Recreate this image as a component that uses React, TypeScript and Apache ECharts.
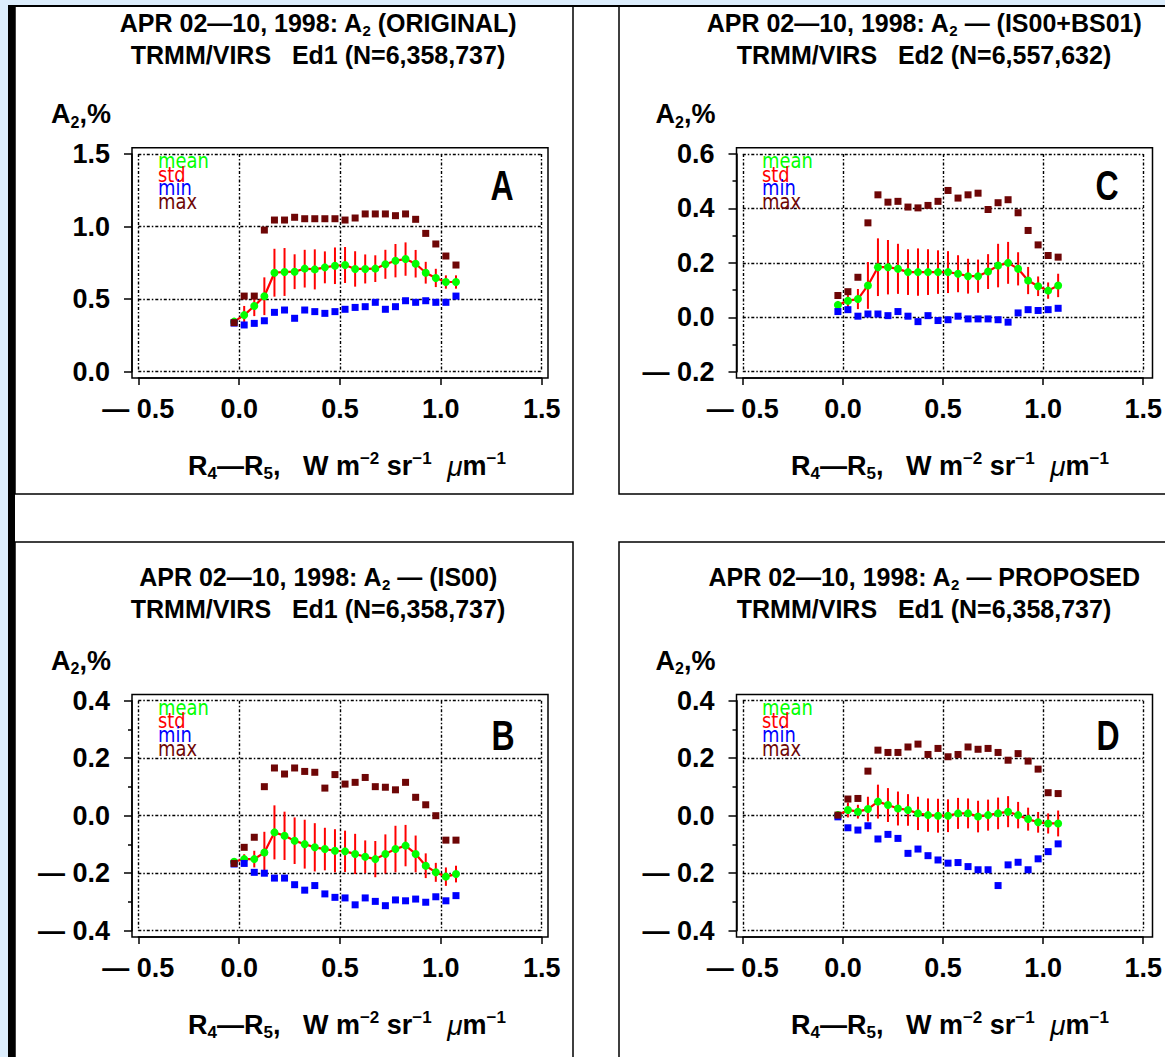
import React, { useEffect, useRef } from 'react';
import * as echarts from 'echarts';

// ---------- DATA ----------
const X_BINS = [-0.025, 0.025, 0.075, 0.125, 0.175, 0.225, 0.275, 0.325, 0.375, 0.425, 0.475, 0.525, 0.575, 0.625, 0.675, 0.725, 0.775, 0.825, 0.875, 0.925, 0.975, 1.025, 1.075];

const A_MEAN = [0.345, 0.39, 0.453, 0.52, 0.682, 0.687, 0.689, 0.71, 0.705, 0.719, 0.73, 0.735, 0.708, 0.708, 0.71, 0.74, 0.765, 0.776, 0.744, 0.682, 0.646, 0.618, 0.618];
const A_STD = [0.01, 0.063, 0.07, 0.13, 0.165, 0.165, 0.12, 0.13, 0.138, 0.11, 0.126, 0.124, 0.122, 0.1, 0.092, 0.1, 0.115, 0.115, 0.095, 0.075, 0.063, 0.046, 0.046];
const A_MIN = [0.335, 0.322, 0.333, 0.351, 0.409, 0.425, 0.368, 0.425, 0.414, 0.402, 0.414, 0.43, 0.443, 0.448, 0.478, 0.43, 0.448, 0.489, 0.478, 0.489, 0.478, 0.478, 0.521];
const A_MAX = [0.338, 0.521, 0.521, 0.976, 1.045, 1.045, 1.064, 1.054, 1.054, 1.054, 1.054, 1.045, 1.059, 1.087, 1.087, 1.087, 1.075, 1.087, 1.05, 0.953, 0.88, 0.797, 0.735];

const C_MEAN = [0.045, 0.061, 0.067, 0.117, 0.184, 0.184, 0.178, 0.166, 0.166, 0.166, 0.166, 0.166, 0.16, 0.151, 0.151, 0.168, 0.19, 0.2, 0.178, 0.135, 0.114, 0.098, 0.117];
const C_STD = [0.015, 0.025, 0.037, 0.086, 0.106, 0.1, 0.092, 0.084, 0.087, 0.084, 0.08, 0.077, 0.068, 0.064, 0.061, 0.064, 0.08, 0.077, 0.061, 0.05, 0.036, 0.03, 0.043];
const C_MIN = [0.021, 0.028, 0.004, 0.012, 0.012, 0.006, 0.021, 0.004, -0.016, 0.006, -0.012, -0.009, 0.004, -0.006, -0.006, -0.006, -0.009, -0.018, 0.016, 0.028, 0.025, 0.028, 0.033];
const C_MAX = [0.08, 0.094, 0.147, 0.347, 0.45, 0.423, 0.426, 0.405, 0.402, 0.411, 0.426, 0.466, 0.438, 0.45, 0.456, 0.396, 0.421, 0.432, 0.384, 0.319, 0.266, 0.227, 0.221];

const B_MEAN = [-0.16, -0.151, -0.151, -0.128, -0.058, -0.07, -0.087, -0.099, -0.11, -0.116, -0.122, -0.124, -0.133, -0.143, -0.151, -0.133, -0.116, -0.104, -0.133, -0.174, -0.197, -0.212, -0.203];
const B_STD = [0.01, 0.017, 0.029, 0.072, 0.094, 0.084, 0.081, 0.085, 0.084, 0.074, 0.075, 0.072, 0.07, 0.057, 0.063, 0.068, 0.081, 0.072, 0.064, 0.043, 0.033, 0.032, 0.029];
const B_MIN = [-0.168, -0.166, -0.197, -0.2, -0.217, -0.217, -0.24, -0.259, -0.243, -0.272, -0.284, -0.286, -0.31, -0.286, -0.298, -0.313, -0.293, -0.296, -0.29, -0.301, -0.282, -0.296, -0.278];
const B_MAX = [-0.166, -0.11, -0.075, 0.101, 0.166, 0.145, 0.166, 0.154, 0.151, 0.096, 0.143, 0.11, 0.116, 0.133, 0.101, 0.099, 0.09, 0.116, 0.064, 0.038, 0.0, -0.085, -0.085];

const D_MEAN = [0.002, 0.02, 0.014, 0.023, 0.049, 0.037, 0.025, 0.02, 0.008, 0.002, 0.0, 0.0, 0.008, 0.008, -0.003, 0.002, 0.008, 0.014, 0.002, -0.012, -0.023, -0.027, -0.027];
const D_STD = [0.01, 0.026, 0.024, 0.043, 0.059, 0.059, 0.059, 0.055, 0.058, 0.058, 0.059, 0.057, 0.054, 0.052, 0.055, 0.054, 0.055, 0.054, 0.046, 0.04, 0.036, 0.035, 0.045];
const D_MIN = [-0.004, -0.042, -0.05, -0.035, -0.081, -0.065, -0.079, -0.131, -0.116, -0.139, -0.154, -0.165, -0.163, -0.177, -0.188, -0.188, -0.243, -0.171, -0.162, -0.188, -0.15, -0.125, -0.098];
const D_MAX = [0.002, 0.058, 0.06, 0.155, 0.228, 0.22, 0.22, 0.239, 0.249, 0.213, 0.234, 0.205, 0.213, 0.239, 0.231, 0.234, 0.22, 0.193, 0.216, 0.19, 0.162, 0.08, 0.077];

const X_TICKS = { min: -0.5, max: 1.5, step: 0.5 };
const LEGEND_LABELS = ['mean', 'std', 'min', 'max'];

const PANELS = [
  { letter: 'A', t1: 'APR 02\u201410, 1998: A{s|2} (ORIGINAL)', t2: 'TRMM/VIRS   Ed1 (N=6,358,737)', mean: A_MEAN, std: A_STD, min: A_MIN, max: A_MAX, yMin: 0, yMax: 1.5, yStep: 0.5, minor: false },
  { letter: 'C', t1: 'APR 02\u201410, 1998: A{s|2} \u2014 (IS00+BS01)', t2: 'TRMM/VIRS   Ed2 (N=6,557,632)', mean: C_MEAN, std: C_STD, min: C_MIN, max: C_MAX, yMin: -0.2, yMax: 0.6, yStep: 0.2, minor: true },
  { letter: 'B', t1: 'APR 02\u201410, 1998: A{s|2} \u2014 (IS00)', t2: 'TRMM/VIRS   Ed1 (N=6,358,737)', mean: B_MEAN, std: B_STD, min: B_MIN, max: B_MAX, yMin: -0.4, yMax: 0.4, yStep: 0.2, minor: true },
  { letter: 'D', t1: 'APR 02\u201410, 1998: A{s|2} \u2014 PROPOSED', t2: 'TRMM/VIRS   Ed1 (N=6,358,737)', mean: D_MEAN, std: D_STD, min: D_MIN, max: D_MAX, yMin: -0.4, yMax: 0.4, yStep: 0.2, minor: true },
];

// ---------- LAYOUT ----------
const GW = 403.4;
const PAD = 6.3;
const LAYOUT = [
  { gx: 138.3, gy: 154, gh: 217.7, px: 15, py: 6, ph: 488, titleX: 318, titleTop: 8, letterX: 502, letterY: 185, legX: 158 },
  { gx: 742.8, gy: 154, gh: 217.7, px: 619, py: 6, ph: 488, titleX: 924, titleTop: 8, letterX: 1107, letterY: 185, legX: 762 },
  { gx: 138.3, gy: 700.7, gh: 230, px: 15, py: 542, ph: 540, titleX: 318, titleTop: 562, letterX: 503, letterY: 735, legX: 158 },
  { gx: 742.8, gy: 700.7, gh: 230, px: 619, py: 542, ph: 540, titleX: 924, titleTop: 562, letterX: 1108, letterY: 735, legX: 762 },
];

const FONT = '"Liberation Sans", Arial, sans-serif';
const C_MEANCLR = '#00ff00';
const C_STDCLR = '#ff0000';
const C_MINCLR = '#0000ff';
const C_MAXCLR = '#6e0606';
const LEG_COLORS = [C_MEANCLR, C_STDCLR, C_MINCLR, C_MAXCLR];

const fmt = (v: number) => (v < -1e-9 ? '\u2014 ' : '') + Math.abs(v).toFixed(1);

function buildOption() {
  const grid: any[] = [];
  const xAxis: any[] = [];
  const yAxis: any[] = [];
  const series: any[] = [];
  const title: any[] = [];
  const graphic: any[] = [
    { type: 'rect', z: -10, shape: { x: 8, y: 5, width: 1157, height: 1052 }, style: { fill: '#ffffff' } },
    { type: 'rect', z: 20, shape: { x: 8, y: 5, width: 7, height: 1052 }, style: { fill: '#000000' } },
    { type: 'rect', z: 20, shape: { x: 8, y: 5, width: 1157, height: 2 }, style: { fill: '#000000' } },
  ];
  const gridLine = { color: '#000', width: 1.4, type: [3, 2, 1.5, 2] };

  PANELS.forEach((p, i) => {
    const L = LAYOUT[i];
    grid.push({ left: L.gx, top: L.gy, width: GW, height: L.gh, containLabel: false });
    xAxis.push({
      type: 'value', gridIndex: i, min: X_TICKS.min, max: X_TICKS.max, interval: X_TICKS.step, offset: PAD,
      axisLine: { show: true, onZero: false, lineStyle: { color: '#000', width: 1.5 } },
      axisTick: { show: true, length: 7, lineStyle: { color: '#000', width: 1.5 } },
      axisLabel: { margin: 17, color: '#000', fontSize: 27, fontWeight: 'bold', fontFamily: FONT, formatter: fmt },
      splitLine: { show: true, lineStyle: gridLine },
      name: '{n|R}{sb|4}{n|\u2014R}{sb|5}{n|,   W m}{sp|\u22122}{n| sr}{sp|\u22121}{mu|  \u03bc}{n|m}{sp|\u22121}',
      nameLocation: 'middle', nameGap: 72,
      nameTextStyle: {
        padding: [0, 0, 0, 14],
        rich: {
          n: { fontSize: 27, fontWeight: 'bold', fontFamily: FONT, color: '#000', lineHeight: 32 },
          sb: { fontSize: 17, fontWeight: 'bold', fontFamily: FONT, color: '#000', verticalAlign: 'bottom', lineHeight: 17 },
          sp: { fontSize: 17, fontWeight: 'bold', fontFamily: FONT, color: '#000', verticalAlign: 'top', lineHeight: 17 },
          mu: { fontSize: 28, fontStyle: 'italic', fontFamily: FONT, color: '#000', lineHeight: 32 },
        },
      },
    });
    yAxis.push({
      type: 'value', gridIndex: i, min: p.yMin, max: p.yMax, interval: p.yStep, offset: PAD,
      axisLine: { show: true, onZero: false, lineStyle: { color: '#000', width: 1.5 } },
      axisTick: { show: true, length: 8, lineStyle: { color: '#000', width: 1.5 } },
      minorTick: { show: p.minor, splitNumber: 2, length: 4, lineStyle: { color: '#000', width: 1.5 } },
      minorSplitLine: { show: false },
      axisLabel: { margin: 22, color: '#000', fontSize: 27, fontWeight: 'bold', fontFamily: FONT, formatter: fmt },
      splitLine: { show: true, lineStyle: gridLine },
      name: '{a|A}{s|2}{a|,%}',
      nameLocation: 'end', nameGap: 40,
      nameTextStyle: {
        align: 'right', verticalAlign: 'middle', padding: [0, 21, 0, 0],
        rich: {
          a: { fontSize: 27, fontWeight: 'bold', fontFamily: FONT, color: '#000', lineHeight: 32 },
          s: { fontSize: 16, fontWeight: 'bold', fontFamily: FONT, color: '#000', verticalAlign: 'bottom', lineHeight: 15 },
        },
      },
    });

    const titleStyle = {
      fontSize: 25, fontWeight: 'bold', fontFamily: FONT, color: '#000', lineHeight: 30,
      rich: { s: { fontSize: 15, fontWeight: 'bold', fontFamily: FONT, color: '#000', verticalAlign: 'bottom', lineHeight: 14 } },
    };
    title.push({
      text: p.t1, subtext: p.t2, left: L.titleX, top: L.titleTop, textAlign: 'center', padding: 0, itemGap: 2,
      textStyle: titleStyle, subtextStyle: { fontSize: 25, fontWeight: 'bold', fontFamily: FONT, color: '#000', lineHeight: 30 },
    });

    series.push({
      type: 'custom', name: 'std', xAxisIndex: i, yAxisIndex: i, z: 2,
      data: X_BINS.map((x, j) => [x, p.mean[j] - p.std[j], p.mean[j] + p.std[j]]),
      encode: { x: 0, y: [1, 2] },
      renderItem: (params: any, api: any) => {
        const a = api.coord([api.value(0), api.value(1)]);
        const b = api.coord([api.value(0), api.value(2)]);
        return { type: 'line', shape: { x1: a[0], y1: a[1], x2: b[0], y2: b[1] }, style: { stroke: C_STDCLR, lineWidth: 2 } };
      },
    });
    series.push({
      type: 'line', name: 'mean', xAxisIndex: i, yAxisIndex: i, z: 3,
      data: X_BINS.map((x, j) => [x, p.mean[j]]),
      symbol: 'circle', symbolSize: 8, showAllSymbol: true,
      itemStyle: { color: C_MEANCLR, opacity: 1 },
      lineStyle: { color: C_STDCLR, width: 2.2 },
    });
    series.push({
      type: 'scatter', name: 'min', xAxisIndex: i, yAxisIndex: i, z: 4,
      data: X_BINS.map((x, j) => [x, p.min[j]]),
      symbol: 'rect', symbolSize: 7, itemStyle: { color: C_MINCLR, opacity: 1 },
    });
    series.push({
      type: 'scatter', name: 'max', xAxisIndex: i, yAxisIndex: i, z: 5,
      data: X_BINS.map((x, j) => [x, p.max[j]]),
      symbol: 'rect', symbolSize: 7, itemStyle: { color: C_MAXCLR, opacity: 1 },
    });

    // panel border and plot frame
    graphic.push({ type: 'rect', z: 15, shape: { x: L.px, y: L.py, width: 558, height: L.ph }, style: { fill: 'none', stroke: '#000', lineWidth: 1.5 } });
    graphic.push({ type: 'rect', z: 15, shape: { x: L.gx - PAD, y: L.gy - PAD, width: GW + 2 * PAD, height: L.gh + 2 * PAD }, style: { fill: 'none', stroke: '#000', lineWidth: 1.5 } });
    // panel letter
    graphic.push({ type: 'text', z: 16, x: L.letterX, y: L.letterY, scaleY: 1.35, style: { text: p.letter, fontSize: 32, fontWeight: 'bold', fontFamily: FONT, fill: '#000', align: 'center', verticalAlign: 'middle' } });
    // legend labels (stacked, as in the reference)
    LEGEND_LABELS.forEach((lab, k) => {
      graphic.push({ type: 'text', z: 16, x: L.legX, y: L.gy + 7 + k * 13.7, scaleY: 1.3, style: { text: lab, fontSize: 16, fontFamily: '"DejaVu Sans", sans-serif', fill: LEG_COLORS[k], align: 'left', verticalAlign: 'middle' }, scaleX: 1.12 });
    });
  });

  return { animation: false, backgroundColor: '#dcedfc', title, grid, xAxis, yAxis, series, graphic };
}

export default function App() {
  const ref = useRef<HTMLDivElement>(null);
  useEffect(() => {
    if (!ref.current) return;
    const chart = echarts.init(ref.current, null, { renderer: 'svg' });
    chart.setOption(buildOption() as any);
    return () => chart.dispose();
  }, []);
  return <div ref={ref} style={{ position: 'absolute', left: 0, top: 0, width: 1165, height: 1057 }} />;
}
